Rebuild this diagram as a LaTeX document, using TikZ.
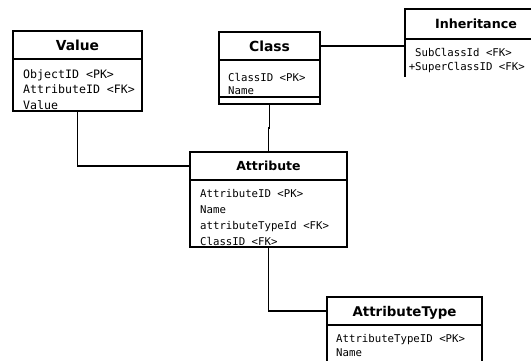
\documentclass[tikz,border=0pt]{standalone}
\usepackage{fontspec}
\newfontfamily\headfont{DejaVu Sans}
\newfontfamily\monofont{DejaVu Sans Mono}
\tikzset{
  ent/.style={draw, line width=1.8pt, inner sep=0pt, outer sep=0pt,
              anchor=north west},
  enthead/.style={ent, minimum height=28pt, text depth=0pt,
                  font=\fontsize{#1}{15}\selectfont\headfont\bfseries},
  entbody/.style={ent},
  fields/.style={anchor=north west, align=left, inner sep=0pt,
                 font=\fontsize{10.7}{#1}\selectfont\monofont},
  link/.style={line width=1.8pt},
}

\begin{document}
\begin{tikzpicture}[x=1pt, y=-1pt]
\useasboundingbox (0,0) rectangle (531,360);
\fill[white] (0,0) rectangle (531,360);
\clip (0,0) rectangle (531,360);

% entities
\node[enthead=13.8, minimum width=129pt] (valuehead) at (13,31) {Value};
\node[entbody, minimum width=129pt, minimum height=52pt] (valuebody)
  at (valuehead.south west) {};
\node[fields=15.6, font=\fontsize{11.6}{15.6}\selectfont\monofont] (valuefields)
  at ([xshift=10pt, yshift=-10pt]valuebody.north west)
  {ObjectID <PK>\\AttributeID <FK>\\Value};

\node[enthead=13.9, minimum width=101pt] (classhead) at (219,32) {Class};
\node[entbody, minimum width=101pt, minimum height=37pt] (classbody)
  at (classhead.south west) {};
\node[entbody, minimum width=101pt, minimum height=7pt] (classops)
  at (classbody.south west) {};
\node[fields=13.5] (classfields) at ([xshift=9pt, yshift=-13pt]classbody.north west)
  {ClassID <PK>\\Name};

\node[enthead=12.7, minimum width=142pt, minimum height=30pt] (inhhead) at (405,9) {Inheritance};
\node[ent, draw=none, minimum width=142pt, minimum height=38pt] (inhbody)
  at (inhhead.south west) {};
\draw[link] (inhbody.north west) -- (inhbody.south west);
\node[fields=13.4] (inhfields) at ([xshift=10pt, yshift=-9.5pt]inhbody.north west)
  {SubClassId <FK>\\\llap{+}SuperClassID <FK>};

\node[enthead=12.5, minimum width=157pt] (attrhead) at (190,152) {Attribute};
\node[entbody, minimum width=157pt, minimum height=67pt] (attrbody)
  at (attrhead.south west) {};
\node[fields=16] (attrfields) at ([xshift=10pt, yshift=-8.7pt]attrbody.north west)
  {AttributeID <PK>\\Name\\attributeTypeId <FK>\\ClassID <FK>};

\node[enthead=13.4, minimum width=155pt] (typehead) at (327,297) {AttributeType};
\node[entbody, minimum width=155pt, minimum height=50pt] (typebody)
  at (typehead.south west) {};
\node[fields=14.4] (typefields) at ([xshift=9pt, yshift=-8.7pt]typebody.north west)
  {AttributeTypeID <PK>\\Name};

% relations
\draw[link] (valuebody.south) |- (attrhead.west);
\draw[link] (classops.south) -- ++(0,24) -| (attrhead.north);
\draw[link] (classhead.east) -- (classhead.east -| inhhead.west);
\draw[link] (attrbody.south) |- (typehead.west);

\end{tikzpicture}
\end{document}
